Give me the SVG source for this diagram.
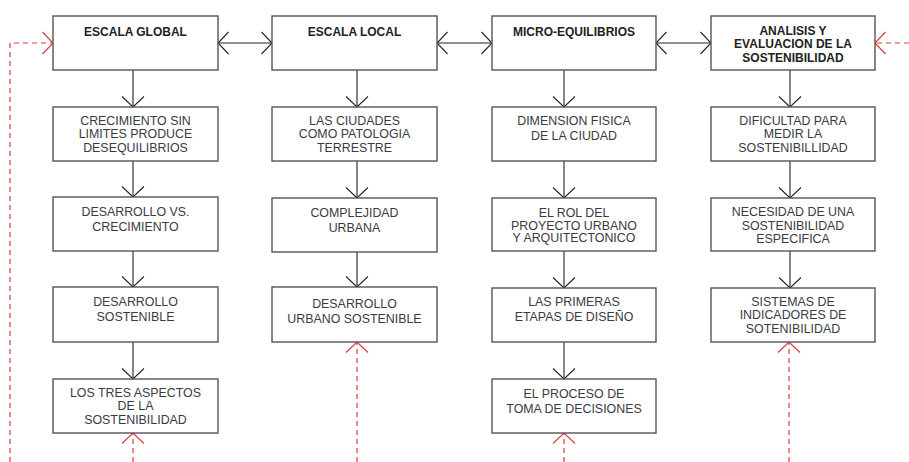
<svg xmlns="http://www.w3.org/2000/svg" width="909" height="462" viewBox="0 0 909 462">
<style>
.box{fill:#fff;stroke:#555;stroke-width:1.4}
.h{font-family:"Liberation Sans",Arial,sans-serif;font-size:12px;font-weight:bold;fill:#222;text-anchor:middle}
.t{font-family:"Liberation Sans",Arial,sans-serif;font-size:12.4px;fill:#3a3a44;text-anchor:middle}
.c{fill:none;stroke:#222;stroke-width:1.1}
.r{fill:none;stroke:#e23a3a;stroke-width:1.2;stroke-dasharray:5 4}
</style>
<defs>
<marker id="ak" markerUnits="userSpaceOnUse" viewBox="-12 -12 14 24" markerWidth="14" markerHeight="24" refX="0" refY="0" orient="auto-start-reverse">
<path d="M-10.5,-11 L0,0 L-10.5,11" fill="none" stroke="#222" stroke-width="1.1"/>
</marker>
<marker id="ar" markerUnits="userSpaceOnUse" viewBox="-12 -12 14 24" markerWidth="14" markerHeight="24" refX="0" refY="0" orient="auto">
<path d="M-10.5,-11 L0,0 L-10.5,11" fill="none" stroke="#e23a3a" stroke-width="1.2"/>
</marker>
</defs>
<rect width="909" height="462" fill="#fff"/>
<g id="connectors">
<line class="c" x1="218" y1="43" x2="272" y2="43" marker-start="url(#ak)" marker-end="url(#ak)"/>
<line class="c" x1="437" y1="43" x2="492" y2="43" marker-start="url(#ak)" marker-end="url(#ak)"/>
<line class="c" x1="656" y1="43" x2="711" y2="43" marker-start="url(#ak)" marker-end="url(#ak)"/>
<line class="c" x1="133" y1="70" x2="133" y2="107" marker-end="url(#ak)"/>
<line class="c" x1="133" y1="161" x2="133" y2="197" marker-end="url(#ak)"/>
<line class="c" x1="133" y1="251" x2="133" y2="287" marker-end="url(#ak)"/>
<line class="c" x1="133" y1="342" x2="133" y2="379" marker-end="url(#ak)"/>
<line class="c" x1="357" y1="70" x2="357" y2="107" marker-end="url(#ak)"/>
<line class="c" x1="357" y1="161" x2="357" y2="198" marker-end="url(#ak)"/>
<line class="c" x1="357" y1="252" x2="357" y2="287" marker-end="url(#ak)"/>
<line class="c" x1="564" y1="70" x2="564" y2="107" marker-end="url(#ak)"/>
<line class="c" x1="564" y1="161" x2="564" y2="198" marker-end="url(#ak)"/>
<line class="c" x1="564" y1="251" x2="564" y2="288" marker-end="url(#ak)"/>
<line class="c" x1="564" y1="342" x2="564" y2="379" marker-end="url(#ak)"/>
<line class="c" x1="790" y1="70" x2="790" y2="107" marker-end="url(#ak)"/>
<line class="c" x1="790" y1="161" x2="790" y2="198" marker-end="url(#ak)"/>
<line class="c" x1="790" y1="251" x2="790" y2="288" marker-end="url(#ak)"/>
<polyline class="r" points="10,462 10,43 53,43" marker-end="url(#ar)"/>
<line class="r" x1="909" y1="43" x2="875" y2="43" marker-end="url(#ar)"/>
<line class="r" x1="133" y1="462" x2="133" y2="433" marker-end="url(#ar)"/>
<line class="r" x1="357" y1="462" x2="357" y2="342" marker-end="url(#ar)"/>
<line class="r" x1="564" y1="462" x2="564" y2="433" marker-end="url(#ar)"/>
<line class="r" x1="789" y1="462" x2="789" y2="342" marker-end="url(#ar)"/>
</g>
<g id="escala-global"><rect class="box" x="53" y="16" width="165" height="54"/><text class="h" x="135.5" y="35.5">ESCALA GLOBAL</text></g>
<g id="escala-local"><rect class="box" x="272" y="16" width="165" height="54"/><text class="h" x="354.5" y="35.5">ESCALA LOCAL</text></g>
<g id="micro-equilibrios"><rect class="box" x="492" y="16" width="164" height="54"/><text class="h" x="574" y="35.5">MICRO-EQUILIBRIOS</text></g>
<g id="analisis"><rect class="box" x="711" y="16" width="164" height="54"/><text class="h" x="793" y="34.5">ANALISIS Y</text><text class="h" x="793" y="48">EVALUACION DE LA</text><text class="h" x="793" y="61.5">SOSTENIBILIDAD</text></g>

<g id="crecimiento"><rect class="box" x="53" y="107" width="165" height="54"/><text class="t" x="135.5" y="124.5">CRECIMIENTO SIN</text><text class="t" x="135.5" y="138">LIMITES PRODUCE</text><text class="t" x="135.5" y="151.5">DESEQUILIBRIOS</text></g>
<g id="desarrollo-vs"><rect class="box" x="53" y="197" width="165" height="54"/><text class="t" x="135.5" y="216">DESARROLLO VS.</text><text class="t" x="135.5" y="231">CRECIMIENTO</text></g>
<g id="desarrollo-sostenible"><rect class="box" x="53" y="287" width="165" height="55"/><text class="t" x="135.5" y="306">DESARROLLO</text><text class="t" x="135.5" y="321">SOSTENIBLE</text></g>
<g id="tres-aspectos"><rect class="box" x="53" y="379" width="165" height="54"/><text class="t" x="135.5" y="396.5">LOS TRES ASPECTOS</text><text class="t" x="135.5" y="410">DE LA</text><text class="t" x="135.5" y="423.5">SOSTENIBILIDAD</text></g>

<g id="ciudades"><rect class="box" x="272" y="107" width="165" height="54"/><text class="t" x="354.5" y="124.5">LAS CIUDADES</text><text class="t" x="354.5" y="138">COMO PATOLOGIA</text><text class="t" x="354.5" y="151.5">TERRESTRE</text></g>
<g id="complejidad"><rect class="box" x="272" y="198" width="165" height="54"/><text class="t" x="354.5" y="217">COMPLEJIDAD</text><text class="t" x="354.5" y="232">URBANA</text></g>
<g id="desarrollo-urbano"><rect class="box" x="272" y="287" width="165" height="55"/><text class="t" x="354.5" y="307.5">DESARROLLO</text><text class="t" x="354.5" y="322.5">URBANO SOSTENIBLE</text></g>

<g id="dimension"><rect class="box" x="492" y="107" width="164" height="54"/><text class="t" x="574" y="125">DIMENSION FISICA</text><text class="t" x="574" y="140">DE LA CIUDAD</text></g>
<g id="rol"><rect class="box" x="492" y="198" width="164" height="53"/><text class="t" x="574" y="216.5">EL ROL DEL</text><text class="t" x="574" y="229.5">PROYECTO URBANO</text><text class="t" x="574" y="242">Y ARQUITECTONICO</text></g>
<g id="primeras-etapas"><rect class="box" x="492" y="288" width="164" height="54"/><text class="t" x="574" y="306">LAS PRIMERAS</text><text class="t" x="574" y="321">ETAPAS DE DISEÑO</text></g>
<g id="proceso"><rect class="box" x="492" y="379" width="164" height="54"/><text class="t" x="574" y="397.5">EL PROCESO DE</text><text class="t" x="574" y="412.5">TOMA DE DECISIONES</text></g>

<g id="dificultad"><rect class="box" x="711" y="107" width="164" height="54"/><text class="t" x="793" y="124.5">DIFICULTAD PARA</text><text class="t" x="793" y="138">MEDIR LA</text><text class="t" x="793" y="151.5">SOSTENIBILLIDAD</text></g>
<g id="necesidad"><rect class="box" x="711" y="198" width="164" height="53"/><text class="t" x="793" y="216">NECESIDAD DE UNA</text><text class="t" x="793" y="229.5">SOSTENIBILIDAD</text><text class="t" x="793" y="243">ESPECIFICA</text></g>
<g id="sistemas"><rect class="box" x="711" y="288" width="164" height="54"/><text class="t" x="793" y="305.5">SISTEMAS DE</text><text class="t" x="793" y="319">INDICADORES DE</text><text class="t" x="793" y="332.5">SOTENIBILIDAD</text></g>
</svg>
